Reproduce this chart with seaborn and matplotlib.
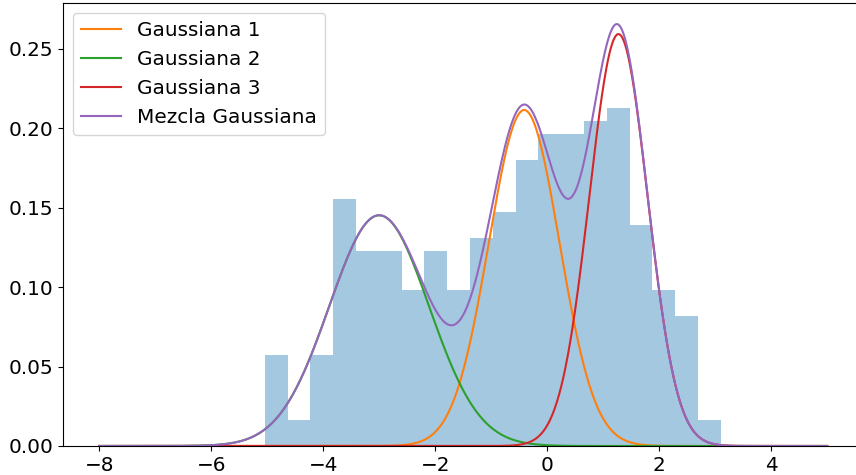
import numpy as np
import pandas as pd
import matplotlib
matplotlib.use("Agg")
import matplotlib.pyplot as plt
import seaborn as sns

# histogram (counts per bin, 300 samples)
bin_lo, bin_hi, n_bins = -5.04, 3.10, 20
counts = [7, 2, 7, 19, 15, 15, 12, 15, 12, 16, 18, 22, 24, 24, 25, 26, 17, 12, 10, 2]

# mixture components
labels = ["Gaussiana 1", "Gaussiana 2", "Gaussiana 3"]
means = [-0.41, -3.0, 1.274]
sigmas = [0.63, 0.89, 0.52]
weights = [0.334, 0.324, 0.338]
colors = ["tab:orange", "tab:green", "tab:red"]

edges = np.linspace(bin_lo, bin_hi, n_bins + 1)
hist_df = pd.DataFrame({"x": (edges[:-1] + edges[1:]) / 2, "n": counts})

fig = plt.figure(figsize=(8.56, 4.75), dpi=100)
ax = fig.add_axes([0.0733, 0.0611, 0.9355, 0.9326])

sns.histplot(data=hist_df, x="x", weights="n", bins=n_bins, binrange=(bin_lo, bin_hi),
             stat="density", color="tab:blue", alpha=0.4, linewidth=0, ax=ax)

xs = np.linspace(-8, 5, 1000)
total = np.zeros_like(xs)
for m, s, w, c, lab in zip(means, sigmas, weights, colors, labels):
    pdf = w * np.exp(-0.5 * ((xs - m) / s) ** 2) / (s * np.sqrt(2 * np.pi))
    total += pdf
    sns.lineplot(x=xs, y=pdf, color=c, label=lab, linewidth=1.5, ax=ax)
sns.lineplot(x=xs, y=total, color="tab:purple", label="Mezcla Gaussiana", linewidth=1.5, ax=ax)

ax.set_xlabel("")
ax.set_ylabel("")
ax.tick_params(labelsize=14.4)
ax.set_xticks([-8, -6, -4, -2, 0, 2, 4])
ax.legend(loc="upper left", fontsize=14.4)

fig.savefig("out.png", dpi=100)
